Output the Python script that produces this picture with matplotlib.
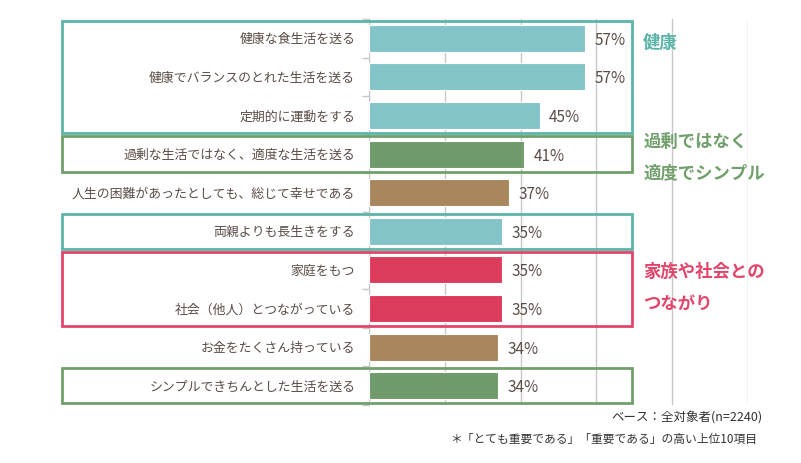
import matplotlib.pyplot as plt
from matplotlib.patches import Rectangle
import numpy as np

plt.rcParams['font.family'] = ['Noto Sans CJK JP', 'DejaVu Sans']

labels = ['健康な食生活を送る', '健康でバランスのとれた生活を送る', '定期的に運動をする',
          '過剰な生活ではなく、適度な生活を送る', '人生の困難があったとしても、総じて幸せである',
          '両親よりも長生きをする', '家庭をもつ', '社会（他人）とつながっている',
          'お金をたくさん持っている', 'シンプルできちんとした生活を送る']
values = [57, 57, 45, 41, 37, 35, 35, 35, 34, 34]
groups = ['health', 'health', 'health', 'simple', 'other', 'health', 'family', 'family', 'other', 'simple']

bar_colors = {'health': '#82c4c8', 'simple': '#6f9a69', 'family': '#dc3c5b', 'other': '#a8875f'}
box_colors = {'health': '#5cb5a8', 'simple': '#71a06c', 'family': '#e3456a'}

# (first row, last row, group) for the outlined boxes
boxes = [(0, 2, 'health'), (3, 3, 'simple'), (5, 5, 'health'), (6, 7, 'family'), (9, 9, 'simple')]
# group title lines: (text, row position, group)
group_titles = [('健康', 0.13, 'health'),
                ('過剰ではなく', 2.69, 'simple'), ('適度でシンプル', 3.5, 'simple'),
                ('家族や社会との', 6.06, 'family'), ('つながり', 6.89, 'family')]

txt = '#5b4d47'
fig = plt.figure(figsize=(8.01, 4.63), dpi=100)
ax = fig.add_axes([0.4607, 0.1253, 0.4732, 0.8337])

y = np.arange(len(labels))
ax.barh(y, values, height=0.7, color=[bar_colors[g] for g in groups],
        edgecolor='white', linewidth=0.8, zorder=3)
for yi, v in zip(y, values):
    ax.text(v + 2.5, yi + 0.05, f'{v}%', va='center', ha='left', fontsize=11, color=txt)

ax.set_xlim(0, 100)
ax.set_ylim(len(labels) - 0.5, -0.5)
ax.set_xticks([0, 20, 40, 60, 80, 100])
ax.set_xticklabels([])
ax.tick_params(axis='x', length=0)
ax.grid(axis='x', color='#c8c8c8', linewidth=1, zorder=0)
ax.set_yticks(y)
ax.set_yticklabels(labels, fontsize=9.3, color=txt)
ax.tick_params(axis='y', length=0, pad=10)
ax.set_yticks(np.arange(-0.5, len(labels), 1), minor=True)
ax.tick_params(axis='y', which='minor', length=5, color='#c8c8c8', width=1)
for s in ['top', 'right', 'bottom']:
    ax.spines[s].set_visible(False)
ax.spines['left'].set_color('#c8c8c8')

for a, b, g in boxes:
    ax.add_patch(Rectangle((-81, a - 0.46), 150.5, b - a + 0.92, fill=False,
                           edgecolor=box_colors[g], linewidth=2, clip_on=False, zorder=4))

for t, yy, g in group_titles:
    ax.text(72.3, yy, t, fontsize=12.5, fontweight='bold', color=box_colors[g],
            va='center', ha='left')

fig.text(0.952, 0.097, 'ベース：全対象者(n=2240)', ha='right', va='center', fontsize=9, color='#333333')
fig.text(0.945, 0.050, '＊「とても重要である」「重要である」の高い上位10項目', ha='right', va='center',
         fontsize=8.5, color='#333333')

fig.savefig('out.png', dpi=100)
